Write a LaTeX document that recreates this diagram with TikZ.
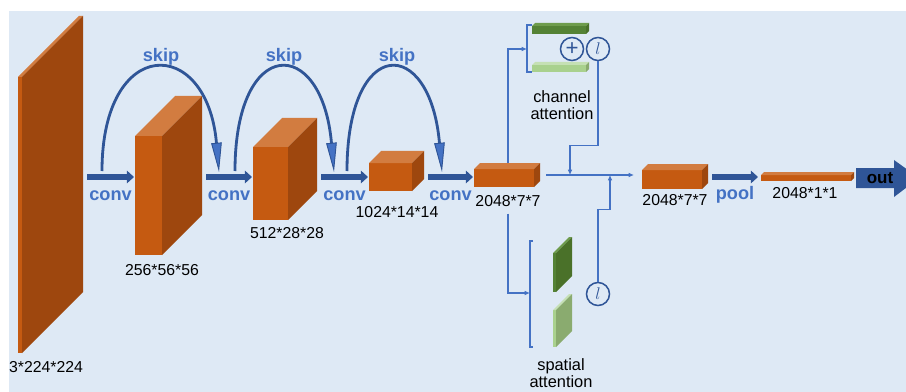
\documentclass[tikz,border=0pt]{standalone}
\usepackage{fontspec}
\setmainfont{Liberation Sans}
\usetikzlibrary{arrows.meta, calc}

\begin{document}
\begin{tikzpicture}[x=0.3mm, y=-0.3mm]

% ---------------------------------------------------------------- colours
\definecolor{bgblue}{HTML}{DEE9F5}
\definecolor{frontor}{HTML}{C55A11}   % feature maps
\definecolor{sideor}{HTML}{9E470E}
\definecolor{topor}{HTML}{D27C40}
\definecolor{frontgd}{HTML}{548235}   % attention weights, dark
\definecolor{sidegd}{HTML}{4A7129}
\definecolor{topgd}{HTML}{6E9C4C}
\definecolor{frontgl}{HTML}{A9D18E}   % attention weights, light
\definecolor{sidegl}{HTML}{8AAB6F}
\definecolor{topgl}{HTML}{C5E0B4}
\definecolor{flowblue}{HTML}{2F5597}
\definecolor{textblue}{HTML}{4472C4}

\tikzset{
    frontface/.style={rectangle, anchor=north west, inner sep=0pt, outer sep=0pt},
    dims/.style={font=\fontsize{13.5}{16}\selectfont, text=black},
    optext/.style={font=\fontsize{15.5}{18}\selectfont\bfseries, text=textblue},
    caption/.style={font=\fontsize{14}{15}\selectfont, text=black, align=center},
    flow/.style={flowblue, line width=5.4pt, -{Triangle[length=6pt, width=10.5pt]}},
    skiparc/.style={flowblue, line width=2.4pt,
        -{Triangle[length=25pt, width=9pt, line width=0.8pt, fill=textblue]}},
    link/.style={textblue, line width=1.1pt},
    linkarrow/.style={link, -{Latex[length=4.5pt, width=4pt]}},
    gate/.style={circle, draw=flowblue, line width=1.3pt, minimum size=6.9mm,
        inner sep=0pt, text=flowblue},
}

% ================================================================
% GEOMETRY (pixel grid, y grows downwards)
%   main axis            y = 177
%   blocks               front face top-left x/y, size w*h, depth d
%   channel branch       bracket x = 527, y = 25 .. 72
%   spatial branch       bracket x = 530, y = 241 .. 347
%   fusion line          y = 175, x = 546 .. 634
% ================================================================

\useasboundingbox (0, 0) rectangle (906, 392);
\fill[bgblue] (9, 11) rectangle (906, 392);

\coordinate (axis) at (0, 177);

% ---------------------------------------------------------------- feature maps
% name / x / y / w / h / depth / label x / label y / label
\foreach \nm/\x/\y/\w/\h/\d/\lx/\ly/\lab in {%
    slab/18/77/4/276/61/46/367/3*224*224,
    c2/135/136/27/119/40/162/270/256*56*56,
    c3/253/147/35/73/29/287/233/512*28*28,
    c4/369/163/43/28/12/397/212/1024*14*14,
    c5/474/169/60/18/6/508/201/2048*7*7,
    c6/642/170/60/19/6/675/200/2048*7*7,
    c7/761/175/90/6/3/805/193/2048*1*1%
} {
    \node[frontface, fill=frontor, minimum width=\w*0.3mm, minimum height=\h*0.3mm]
        (\nm) at (\x, \y) {};
    \fill[topor] (\nm.north west) -- ++(\d, -\d) -- ++(\w, 0) -- (\nm.north east) -- cycle;
    \fill[sideor] (\nm.north east) -- ++(\d, -\d) -- ++(0, \h) -- (\nm.south east) -- cycle;
    \coordinate (\nm-back) at ($(\nm.east) + (\d, 0)$);
    \node[dims] (\nm-lab) at (\lx, \ly) {\lab};
}

% ---------------------------------------------------------------- conv steps
\foreach \a/\b in {slab/c2, c2/c3, c3/c4, c4/c5} {
    \draw[flow] ($(\a-back |- axis) + (4, 0)$) coordinate (\a-out)
        -- ($(\b.west |- axis) + (-1, 0)$) coordinate (\b-in);
    \node[optext] (\a-conv) at ($(\a-out)!0.5!(\b-in) + (0, 19)$) {conv};
}

% ---------------------------------------------------------------- skips
\foreach \i/\sx/\ex/\lx in {1/102/219/161, 2/235/334/284, 3/347/442/397} {
    \coordinate (skip\i-from) at (\sx, 171);
    \coordinate (skip\i-to) at (\ex, 172);
    \draw[skiparc] (skip\i-from) .. controls (\sx, 35) and (\ex-12, 35) .. (skip\i-to);
    \node[optext] (skip\i) at (\lx, 57) {skip};
}

% ---------------------------------------------------------------- attention weights
\foreach \nm/\col/\x/\y/\w/\h/\d in {%
    chd/gd/532/26/54/8/3,
    chl/gl/532/65/54/7/3,
    spd/gd/553/253/3/39/16,
    spl/gl/553/310/3/37/16%
} {
    \node[frontface, fill=front\col, minimum width=\w*0.3mm, minimum height=\h*0.3mm]
        (\nm) at (\x, \y) {};
    \fill[fill=top\col] (\nm.north west) -- ++(\d, -\d) -- ++(\w, 0) -- (\nm.north east) -- cycle;
    \fill[fill=side\col] (\nm.north east) -- ++(\d, -\d) -- ++(0, \h) -- (\nm.south east) -- cycle;
}

\node[gate] (plus) at (572, 49) {\fontsize{19}{19}\selectfont +};
\node[gate, font=\fontsize{14}{14}\selectfont] (sig1) at (598, 49) {$l$};
\node[gate, font=\fontsize{14}{14}\selectfont] (sig2) at (598, 294) {$l$};

\node[caption] (ch-text) at (562, 105) {channel\\attention};
\node[caption] (sp-text) at (561, 373) {spatial\\attention};

% ---------------------------------------------------------------- branches
\coordinate (ch-in) at (527, 49);
\coordinate (sp-in) at (530, 293);
\coordinate (fuse-l) at (546, 175);
\coordinate (fuse-r) at (634, 175);
\coordinate (ch-join) at (570, 175);
\coordinate (sp-join) at (610, 175);

\draw[link] ($(ch-in) + (5, -24)$) -- ++(-5, 0) -- ++(0, 47) -- ++(5, 0);
\draw[link] ($(sp-in) + (3, -52)$) -- ++(-3, 0) -- ++(0, 106) -- ++(3, 0);

\draw[linkarrow] ($(c5.north) + (4, -6)$) |- (ch-in);
\draw[linkarrow] ($(c5-lab.south) + (0, 3)$) |- (sp-in);
\draw[linkarrow] (fuse-l) -- (fuse-r);
\draw[linkarrow] (sig1.south) -- ++(0, 84) -| (ch-join);
\draw[linkarrow] (sig2.north) -- ++(0, -72) -| (sp-join);

% ---------------------------------------------------------------- head
\draw[flow] ($(c6-back |- axis) + (4, 0)$) coordinate (c6-out)
    -- ($(c7.west |- axis) + (-3, 0)$) coordinate (c7-in);
\node[optext] (pool) at ($(c6-out)!0.5!(c7-in) + (0, 18)$) {pool};

\fill[flowblue] (856, 168) -- (894, 168) -- (894, 160) -- (919, 178)
    -- (894, 197) -- (894, 188) -- (856, 188) -- cycle;
\node[font=\fontsize{14.5}{16}\selectfont\bfseries, text=black] (out) at (880, 178) {out};

\end{tikzpicture}
\end{document}
